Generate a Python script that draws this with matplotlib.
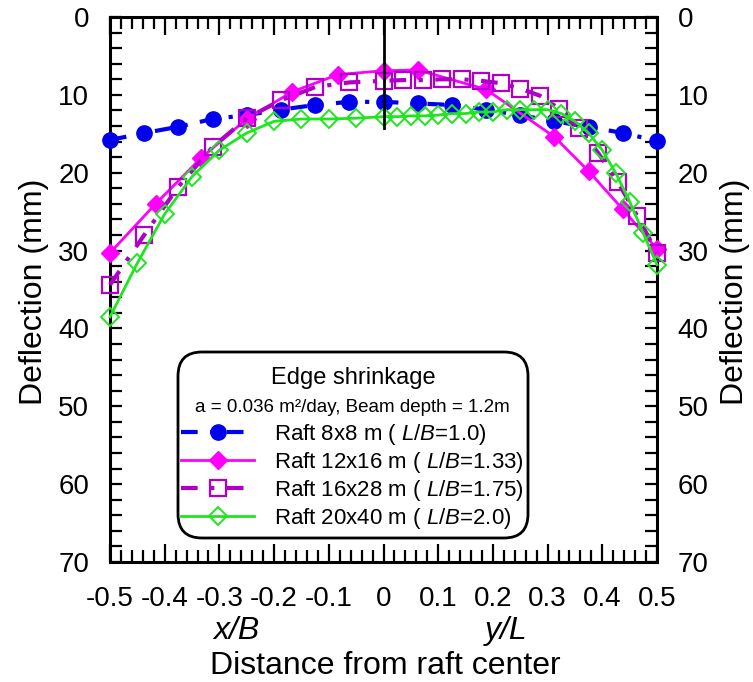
import numpy as np
import matplotlib
matplotlib.use('Agg')
import matplotlib.pyplot as plt
import matplotlib.ticker as mticker
from matplotlib.patches import FancyBboxPatch
from matplotlib.transforms import Affine2D

plt.rcParams['font.family'] = 'Liberation Sans'
plt.rcParams['mathtext.fontset'] = 'custom'
plt.rcParams['mathtext.rm'] = 'Liberation Sans'
plt.rcParams['mathtext.it'] = 'Liberation Sans:italic'

# ------------------------------------------------------------------
# data (x/B on the left half, y/L on the right half)
# ------------------------------------------------------------------
x_8 = [-8/16, -7/16, -6/16, -5/16, -4/16, -3/16, -2/16, -1/16, 0,
       1/16, 2/16, 3/16, 4/16, 5/16, 6/16, 7/16, 8/16]
d_8 = [15.8, 14.9, 14.1, 13.1, 12.6, 11.9, 11.3, 10.9, 10.9,
       11.1, 11.3, 11.9, 12.6, 13.4, 14.1, 14.9, 15.9]

x_12 = [-6/12, -5/12, -4/12, -3/12, -2/12, -1/12, 0,
        1/16, 3/16, 5/16, 6/16, 7/16, 8/16]
d_12 = [30.3, 24.0, 18.1, 13.1, 9.6, 7.4, 6.9,
        6.8, 9.3, 15.4, 19.8, 24.7, 29.8]

x_16 = [-8/16, -7/16, -6/16, -5/16, -4/16, -3/16, -2/16, -1/16, 0,
        1/28, 2/28, 3/28, 4/28, 5/28, 6/28, 7/28, 8/28, 9/28, 10/28,
        11/28, 12/28, 13/28, 14/28]
d_16 = [34.4, 28.0, 21.8, 16.7, 13.0, 10.7, 9.0, 8.4, 8.2,
        8.1, 8.1, 8.0, 8.0, 8.2, 8.5, 9.2, 10.1, 11.8, 14.3,
        17.5, 21.2, 25.6, 30.3]

x_20 = [-10/20, -9/20, -8/20, -7/20, -6/20, -5/20, -4/20, -3/20, -2/20, -1/20, 0,
        1/40, 2/40, 3/40, 4/40, 5/40, 6/40, 7/40, 8/40, 9/40, 10/40,
        11/40, 12/40, 13/40, 14/40, 15/40, 16/40, 17/40, 18/40, 19/40, 20/40]
d_20 = [38.5, 31.6, 25.3, 20.5, 17.1, 14.9, 13.4, 13.1, 13.1, 13.0, 12.8,
        12.8, 12.7, 12.7, 12.6, 12.4, 12.4, 12.2, 12.2, 11.9, 11.9,
        11.9, 11.9, 12.4, 13.4, 14.9, 17.1, 20.1, 23.7, 27.8, 31.8]

labels = [r'Raft 8x8 m ( $\mathit{L/B}$=1.0)',
          r'Raft 12x16 m ( $\mathit{L/B}$=1.33)',
          r'Raft 16x28 m ( $\mathit{L/B}$=1.75)',
          r'Raft 20x40 m ( $\mathit{L/B}$=2.0)']

xticks = [-0.5, -0.4, -0.3, -0.2, -0.1, 0, 0.1, 0.2, 0.3, 0.4, 0.5]
xticklabels = ['-0.5', '-0.4', '-0.3', '-0.2', '-0.1', '0',
               '0.1', '0.2', '0.3', '0.4', '0.5']

C_BLUE, C_MAG, C_PUR, C_GRN = '#0000ee', '#ff00ff', '#b000c8', '#1ee61e'
DASHDOT = (0, (4, 3, 1, 3))

# ------------------------------------------------------------------
# figure
# ------------------------------------------------------------------
W, H = 753, 682
fig = plt.figure(figsize=(W/100, H/100), dpi=100)
ax = fig.add_axes([110/W, 1 - 562/H, 547/W, 545/H])
px = Affine2D().scale(1/W, 1/H) + fig.transFigure   # pixel coords (from bottom)

l1, = ax.plot(x_8, d_8, color=C_BLUE, lw=3, ls=DASHDOT, marker='o', ms=11,
              clip_on=False, zorder=3)
l2, = ax.plot(x_12, d_12, color=C_MAG, lw=2, marker='D', ms=9,
              clip_on=False, zorder=4)
l3, = ax.plot(x_16, d_16, color=C_PUR, lw=3, ls=DASHDOT, marker='s', ms=11,
              mfc='none', mew=1.6, clip_on=False, zorder=5)
l4, = ax.plot(x_20, d_20, color=C_GRN, lw=2, marker='D', ms=9,
              mfc='none', mew=1.4, clip_on=False, zorder=6)

ax.plot([0, 0], [0, 14.3], color='black', lw=2, zorder=7)

ax.set_xlim(-0.5, 0.5)
ax.set_ylim(70, 0)
ax.set_xticks(xticks)
ax.set_xticklabels(xticklabels)
ax.xaxis.set_minor_locator(mticker.MultipleLocator(0.02))
ax.yaxis.set_major_locator(mticker.MultipleLocator(10))
ax.yaxis.set_minor_locator(mticker.MultipleLocator(2))

for s in ax.spines.values():
    s.set_linewidth(2.2)

ax.tick_params(axis='x', which='major', direction='in', top=True, length=13,
               width=1.6, labelsize=20, pad=17)
ax.tick_params(axis='x', which='minor', direction='in', top=True, length=8.6,
               width=1.6)
ax.tick_params(axis='y', which='both', direction='in', right=True, length=8.6,
               width=1.6)
ax.tick_params(axis='y', which='major', labelsize=20, pad=15, labelright=True)

# axis labels
fig.text(34, H - 292, 'Deflection (mm)', transform=px, rotation=90,
         ha='center', va='center', fontsize=23)
fig.text(735, H - 292, 'Deflection (mm)', transform=px, rotation=90,
         ha='center', va='center', fontsize=23)
fig.text(236, H - 631, 'x/B', transform=px, ha='center', va='center',
         fontsize=23, style='italic')
fig.text(506, H - 631, 'y/L', transform=px, ha='center', va='center',
         fontsize=23, style='italic')
fig.text(385, H - 666, 'Distance from raft center', transform=px,
         ha='center', va='center', fontsize=23)

# legend box
box = FancyBboxPatch((178, H - 538), 350, 186, transform=px,
                     boxstyle='round,pad=0,rounding_size=24',
                     fc='white', ec='black', lw=2, zorder=8)
fig.add_artist(box)
fig.text(353, H - 378, 'Edge shrinkage', transform=px, ha='center',
         va='center', fontsize=17, zorder=9)
fig.text(352, H - 407, 'a = 0.036 m\u00b2/day, Beam depth = 1.2m', transform=px,
         ha='center', va='center', fontsize=13.5, zorder=9)
leg = fig.legend([l1, l2, l3, l4], labels, loc='upper left',
                 bbox_to_anchor=(181, H - 422), bbox_transform=px,
                 frameon=False, fontsize=16, handlelength=3.3,
                 handletextpad=0.9, labelspacing=0.13, borderpad=0,
                 borderaxespad=0)
leg.set_zorder(10)

fig.savefig('out.png', dpi=100)
